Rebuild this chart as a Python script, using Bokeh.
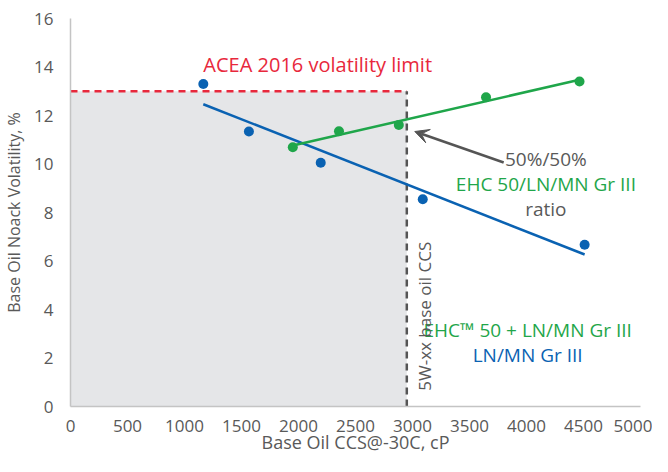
from bokeh.plotting import figure
from bokeh.models import Range1d, FixedTicker, Arrow, VeeHead, Label
from bokeh.embed import file_html
from bokeh.resources import INLINE
import numpy as np

# Data
ln_mn_ccs = [1165, 1565, 2195, 3090, 4510]
ln_mn_noack = [13.3, 11.34, 10.05, 8.55, 6.67]
ehc_ccs = [1950, 2355, 2880, 3645, 4465]
ehc_noack = [10.69, 11.35, 11.61, 12.75, 13.40]
acea_limit = 13.0
ccs_limit = 2950
x_ticks = [0, 500, 1000, 1500, 2000, 2500, 3000, 3500, 4000, 4500, 5000]
y_ticks = [0, 2, 4, 6, 8, 10, 12, 14, 16]

FONT = "Open Sans"
GRAY = "#595959"
RED = "#e8283c"
GREEN = "#1fa64a"
BLUE = "#0a62b2"

p = figure(width=652, height=456,
           output_backend="svg", toolbar_location=None,
           x_range=Range1d(0, 5000), y_range=Range1d(0, 16),
           min_border_left=60, min_border_top=18, min_border_right=12, min_border_bottom=38)
p.outline_line_color = None
p.grid.visible = False
p.background_fill_color = "white"

for ax in (p.xaxis[0], p.yaxis[0]):
    ax.axis_line_color = "#c4c4c4"
    ax.axis_line_width = 1.5
    ax.major_tick_line_color = None
    ax.minor_tick_line_color = None
    ax.major_label_text_font = FONT
    ax.major_label_text_font_size = "17px"
    ax.major_label_text_color = GRAY
    ax.axis_label_text_font = FONT
    ax.axis_label_text_color = GRAY
    ax.axis_label_text_font_style = "normal"

p.xaxis.axis_label_text_font_size = "18px"
p.yaxis.axis_label_text_font_size = "16px"
p.xaxis.ticker = FixedTicker(ticks=x_ticks)
p.yaxis.ticker = FixedTicker(ticks=y_ticks)
p.xaxis.axis_label = "Base Oil CCS@-30C, cP"
p.yaxis.axis_label = "Base Oil Noack Volatility, %"
p.xaxis.major_label_standoff = 7
p.xaxis.axis_label_standoff = -5
p.yaxis.major_label_standoff = 11
p.yaxis.axis_label_standoff = 6

# shaded region
p.quad(left=[0], right=[ccs_limit], bottom=[0], top=[acea_limit],
       fill_color="#e5e6e8", line_color=None)

# limit lines
p.line([0, ccs_limit], [acea_limit, acea_limit], line_color=RED, line_width=2.5, line_dash="7 5")
p.line([ccs_limit, ccs_limit], [0, acea_limit], line_color="#555555", line_width=2.5, line_dash="7 5")

# trend lines
for xs, ys, col in ((ln_mn_ccs, ln_mn_noack, BLUE), (ehc_ccs, ehc_noack, GREEN)):
    m, b = np.polyfit(xs, ys, 1)
    x0, x1 = min(xs), max(xs)
    p.line([x0, x1], [m * x0 + b, m * x1 + b], line_color=col, line_width=2.5)

p.scatter(ln_mn_ccs, ln_mn_noack, size=10, fill_color=BLUE, line_color=None)
p.scatter(ehc_ccs, ehc_noack, size=10, fill_color=GREEN, line_color=None)

# arrow
p.add_layout(Arrow(end=VeeHead(size=14, fill_color="#555555", line_color="#555555"),
                   x_start=3800, y_start=10.06, x_end=3020, y_end=11.34,
                   line_color="#555555", line_width=2.5))

def txt(x, y, s, color, align="center", angle=0, size="20px"):
    p.add_layout(Label(x=x, y=y, text=s, text_color=color, text_align=align,
                       text_baseline="middle", angle=angle, text_font=FONT,
                       text_font_size=size))

txt(1165, 14.1, "ACEA 2016 volatility limit", RED, align="left")
txt(4170, 10.19, "50%/50%", GRAY, size="19px")
txt(4170, 9.18, "EHC 50/LN/MN Gr III", GREEN, size="19px")
txt(4170, 8.16, "ratio", GRAY, size="19px")
txt(4010, 3.15, "EHC\u2122 50 + LN/MN Gr III", GREEN, size="19px")
txt(4010, 2.14, "LN/MN Gr III", BLUE, size="19px")
txt(3105, 0.65, "5W-xx base oil CCS", GRAY, align="left", angle=np.pi / 2, size="17px")

open("out.html", "w").write(file_html(p, INLINE))
